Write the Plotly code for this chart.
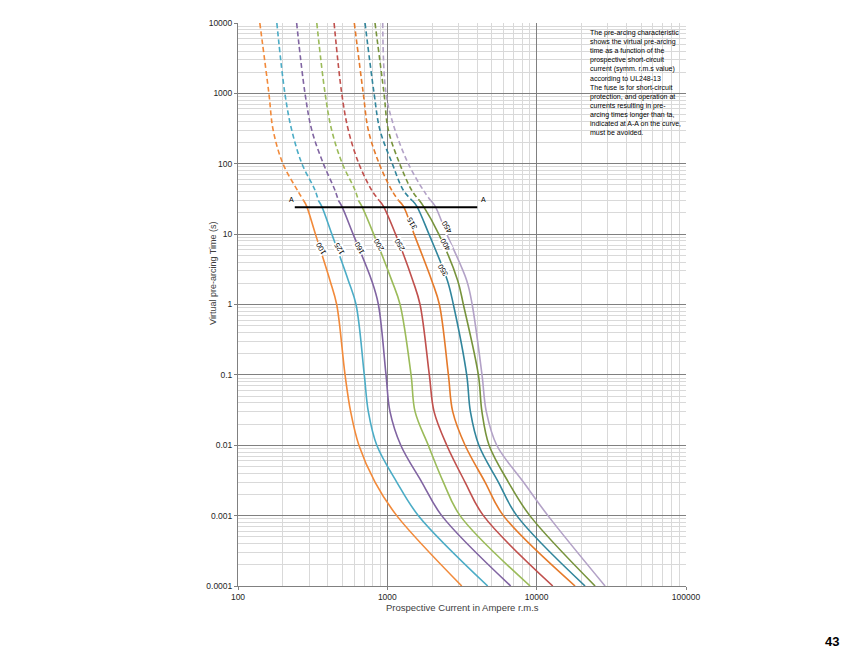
import math
import plotly.graph_objects as go

# Time points (s) shared by all curves
times = [10000, 1000, 300, 100, 42, 30, 25, 10, 2.2, 1, 0.1, 0.03, 0.01, 0.003, 0.001, 0.0001]
N_DASHED = 6  # first points (down to 30 s) drawn dashed

ratings = ["100", "125", "160", "200", "250", "315", "350", "400", "450"]
cur_100 = [140, 161, 172, 200, 250, 275, 288, 330, 413, 458, 521, 568, 645, 827, 1156, 3150]
cur_125 = [182, 206, 229, 268, 328, 345, 363, 425, 548, 617, 701, 746, 850, 1156, 1614, 4700]
cur_160 = [247, 281, 312, 373, 446, 470, 495, 590, 785, 871, 980, 1042, 1230, 1700, 2313, 6700]
cur_200 = [337, 383, 424, 500, 608, 640, 674, 810, 1070, 1217, 1442, 1534, 1880, 2372, 3069, 9040]
cur_250 = [440, 495, 548, 645, 786, 883, 940, 1135, 1480, 1656, 1911, 2055, 2500, 3313, 4399, 12820]
cur_315 = [601, 690, 746, 882, 1070, 1190, 1280, 1510, 1982, 2232, 2564, 2741, 3315, 4510, 5985, 18070]
cur_350 = [709, 815, 893, 1080, 1280, 1470, 1573, 1900, 2524, 2768, 3400, 3600, 4100, 5540, 7359, 21090]
cur_400 = [827, 950, 1016, 1210, 1456, 1640, 1743, 2210, 2958, 3230, 4070, 4300, 4800, 6460, 9000, 24620]
cur_450 = [931, 980, 1127, 1383, 1743, 1952, 2088, 2500, 3400, 3700, 4305, 4600, 5404, 8150, 11900, 28710]
currents = [cur_100, cur_125, cur_160, cur_200, cur_250, cur_315, cur_350, cur_400, cur_450]

colors = ["#F28A3A", "#4BACC6", "#8064A2", "#9BBB59", "#C0504D",
          "#E57A2A", "#31859C", "#77933C", "#B3A2C7"]

# Label positions along curves (current A, time s)
label_x = [358, 474, 649, 871, 1202, 1455, 2371, 2437, 2500]
label_y = [6.3, 6.3, 6.3, 7.0, 7.0, 14.3, 3.1, 7.0, 12.8]

# A-A line
aa_x = [240, 4000]
aa_y = [24, 24]

x_ticks = [100, 1000, 10000, 100000]
y_ticks = [0.0001, 0.001, 0.01, 0.1, 1, 10, 100, 1000, 10000]
x_ticktext = ["100", "1000", "10000", "100000"]
y_ticktext = ["0.0001", "0.001", "0.01", "0.1", "1", "10", "100", "1000", "10000"]

x_minor = [m * 10 ** e for e in range(2, 5) for m in range(2, 10)]
y_minor = [m * 10.0 ** e for e in range(-4, 4) for m in range(2, 10)]

FONT = "Liberation Sans, Arial, sans-serif"
lg = math.log10

fig = go.Figure()
for name, cur, col in zip(ratings, currents, colors):
    fig.add_trace(go.Scatter(
        x=cur[:N_DASHED], y=times[:N_DASHED], mode="lines",
        line=dict(color=col, width=1.6, dash="5px,3px", shape="spline", smoothing=1.0),
        showlegend=False, hoverinfo="skip"))
    fig.add_trace(go.Scatter(
        x=cur[N_DASHED - 1:], y=times[N_DASHED - 1:], mode="lines",
        line=dict(color=col, width=1.6, shape="spline", smoothing=1.0),
        showlegend=False, name=name))

fig.add_trace(go.Scatter(x=aa_x, y=aa_y, mode="lines",
                         line=dict(color="black", width=2), showlegend=False))

for name, lx, ly in zip(ratings, label_x, label_y):
    fig.add_annotation(x=lg(lx), y=lg(ly), xref="x", yref="y",
                       text=name, showarrow=False, textangle=-120,
                       font=dict(family=FONT, size=7.5, color="black"),
                       bgcolor="white", borderpad=0)

# "A" markers
fig.add_annotation(x=lg(aa_x[0]), y=lg(aa_y[0]), xref="x", yref="y", text="A", showarrow=False,
                   xshift=-3, yshift=8, font=dict(family=FONT, size=7, color="black"))
fig.add_annotation(x=lg(aa_x[1]), y=lg(aa_y[1]), xref="x", yref="y", text="A", showarrow=False,
                   xshift=6, yshift=8, font=dict(family=FONT, size=7, color="black"))

# Info box
fig.add_shape(type="rect", xref="paper", yref="paper", x0=0.7746, x1=0.999, y0=0.7815, y1=0.999,
              fillcolor="white", line=dict(width=0), layer="between")
info = ("The pre-arcing characteristic<br>shows the virtual pre-arcing<br>time as a function of the<br>"
        "prospective short-circuit<br>current (symm. r.m.s value)<br>according to UL248-13<br>"
        "The fuse is for short-circuit<br>protection, and operation at<br>currents resulting in pre-<br>"
        "arcing times longer than ta,<br>indicated at A-A on the curve,<br>must be avoided.")
fig.add_annotation(x=0.781, y=0.993, xref="paper", yref="paper", xanchor="left", yanchor="top",
                   text=info, showarrow=False, align="left",
                   font=dict(family=FONT, size=7, color="black"))

# Axis titles
fig.add_annotation(x=0.5, y=-0.0385, xref="paper", yref="paper", xanchor="center", yanchor="middle",
                   text="Prospective Current in Ampere r.m.s", showarrow=False,
                   font=dict(family=FONT, size=9.5, color="#404040"))
fig.add_annotation(x=-0.056, y=0.556, xref="paper", yref="paper", xanchor="center", yanchor="middle",
                   text="Virtual pre-arcing Time (s)", showarrow=False, textangle=-90,
                   font=dict(family=FONT, size=9, color="#404040"))

# Page number
fig.add_annotation(x=1.326, y=-0.0977, xref="paper", yref="paper", xanchor="center", yanchor="middle",
                   text="<b>43</b>", showarrow=False,
                   font=dict(family=FONT, size=13, color="black"))

axis_common = dict(type="log", showline=True, linecolor="#808080", linewidth=1,
                   showgrid=True, gridcolor="#808080", gridwidth=1,
                   ticks="outside", ticklen=3, tickcolor="#808080",
                   tickfont=dict(family=FONT, size=8.5, color="#262626"),
                   zeroline=False, mirror=False)

fig.update_xaxes(range=[2, 5], tickvals=x_ticks, ticktext=x_ticktext,
                 minor=dict(tickvals=x_minor, showgrid=True, gridcolor="#D9D9D9", gridwidth=1, ticks=""),
                 **axis_common)
fig.update_yaxes(range=[-4, 4], tickvals=y_ticks, ticktext=y_ticktext,
                 minor=dict(tickvals=y_minor, showgrid=True, gridcolor="#D9D9D9", gridwidth=1, ticks=""),
                 **axis_common)

fig.update_layout(width=849, height=668,
                  margin=dict(l=238, r=163, t=23, b=82),
                  paper_bgcolor="white", plot_bgcolor="white",
                  showlegend=False)

fig.write_html("out.html")
